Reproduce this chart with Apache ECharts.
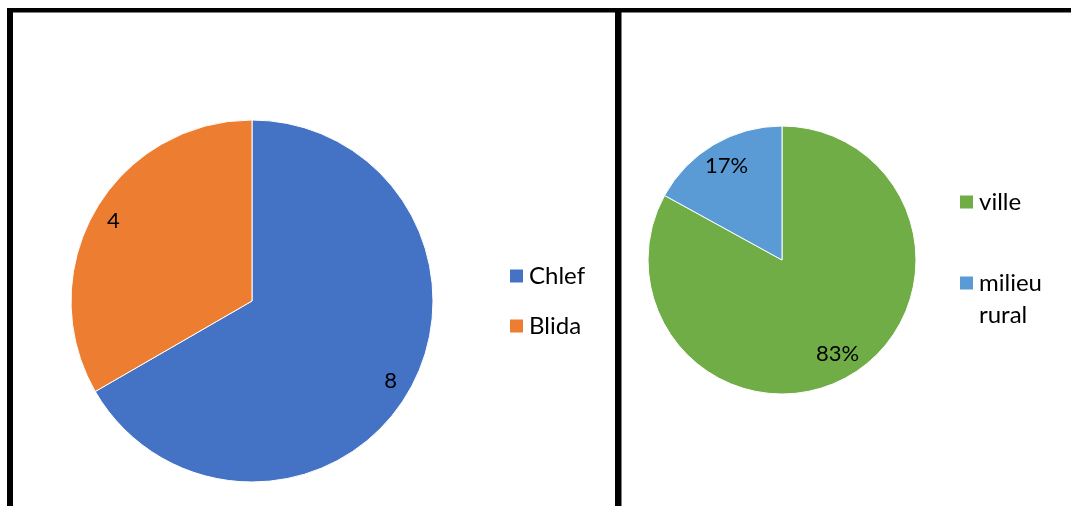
<!DOCTYPE html>
<html>
<head>
<meta charset="utf-8">
<script src="https://cdn.jsdelivr.net/npm/echarts@6/dist/echarts.min.js"></script>
<style>
  html, body { margin: 0; padding: 0; background: #fff; }
  #chart { width: 1071px; height: 506px; }
</style>
</head>
<body>
<div id="chart"></div>
<script>
// Left pie: respondents by wilaya
const regionNames = ['Chlef', 'Blida'];
const regionValues = [8, 4];
const regionColors = ['#4472C4', '#ED7D31'];

// Right pie: share by type of residence (percent)
const areaNames = ['ville', 'milieu rural'];
const areaValues = [83, 17];
const areaColors = ['#70AD47', '#5B9BD5'];

const FONT = 'Lato, "Open Sans", sans-serif';

const regionData = regionNames.map((n, i) => ({ name: n, value: regionValues[i], itemStyle: { color: regionColors[i] } }));
const areaData = areaNames.map((n, i) => ({ name: n, value: areaValues[i], itemStyle: { color: areaColors[i] } }));

const chart = echarts.init(document.getElementById('chart'), null, { renderer: 'canvas' });

const baseSlice = { borderColor: '#ffffff', borderWidth: 1 };
const labelStyle = { show: true, position: 'inside', color: '#000', fontFamily: FONT, fontSize: 22 };
const legendText = { fontFamily: FONT, fontSize: 24, color: '#000' };

chart.setOption({
  animation: false,
  backgroundColor: '#ffffff',
  legend: [
    {
      orient: 'vertical', left: 508, top: 263, padding: 0,
      itemWidth: 15, itemHeight: 15, itemGap: 24, icon: 'rect',
      data: regionNames,
      textStyle: Object.assign({ lineHeight: 26 }, legendText)
    },
    {
      orient: 'vertical', left: 958, top: 189, padding: 0,
      itemWidth: 15, itemHeight: 15, icon: 'rect',
      data: [areaNames[0]],
      textStyle: Object.assign({ lineHeight: 26 }, legendText)
    },
    {
      orient: 'vertical', left: 958, top: 235, padding: 0,
      itemWidth: 15, itemHeight: 15, icon: 'rect',
      data: [areaNames[1]],
      // two-line entry whose first line sits beside the swatch
      formatter: (name) => '\n' + name.replace(' ', '\n'),
      textStyle: Object.assign({ lineHeight: 32 }, legendText)
    }
  ],
  series: [
    {
      type: 'pie', center: [252, 301], radius: [0, 181],
      startAngle: 90, clockwise: true, silent: true,
      label: { show: false }, labelLine: { show: false },
      itemStyle: baseSlice,
      data: regionData
    },
    {
      // value labels ring, drawn over the slices
      type: 'pie', center: [252, 301], radius: [133, 181],
      startAngle: 90, clockwise: true, silent: true, z: 3,
      itemStyle: { color: 'transparent', borderWidth: 0 },
      labelLine: { show: false },
      label: Object.assign({}, labelStyle, { formatter: (p) => String(p.value) }),
      data: regionNames.map((n, i) => ({ name: n, value: regionValues[i] }))
    },
    {
      type: 'pie', center: [782, 260], radius: [0, 134],
      startAngle: 90, clockwise: true, silent: true,
      label: { show: false }, labelLine: { show: false },
      itemStyle: baseSlice,
      data: areaData
    },
    {
      type: 'pie', center: [782, 260], radius: [78, 134],
      startAngle: 90, clockwise: true, silent: true, z: 3,
      itemStyle: { color: 'transparent', borderWidth: 0 },
      labelLine: { show: false },
      label: Object.assign({}, labelStyle, { formatter: (p) => Math.round(p.percent) + '%' }),
      data: areaNames.map((n, i) => ({ name: n, value: areaValues[i] }))
    }
  ],
  graphic: [
    // panel frame: top rule, left rule and the divider between the two panels
    { type: 'rect', shape: { x: 7, y: 8, width: 1064, height: 4.5 }, style: { fill: '#000' }, silent: true },
    { type: 'rect', shape: { x: 7, y: 8, width: 6, height: 498 }, style: { fill: '#000' }, silent: true },
    { type: 'rect', shape: { x: 615, y: 8, width: 6.5, height: 498 }, style: { fill: '#000' }, silent: true }
  ]
});
</script>
</body>
</html>
